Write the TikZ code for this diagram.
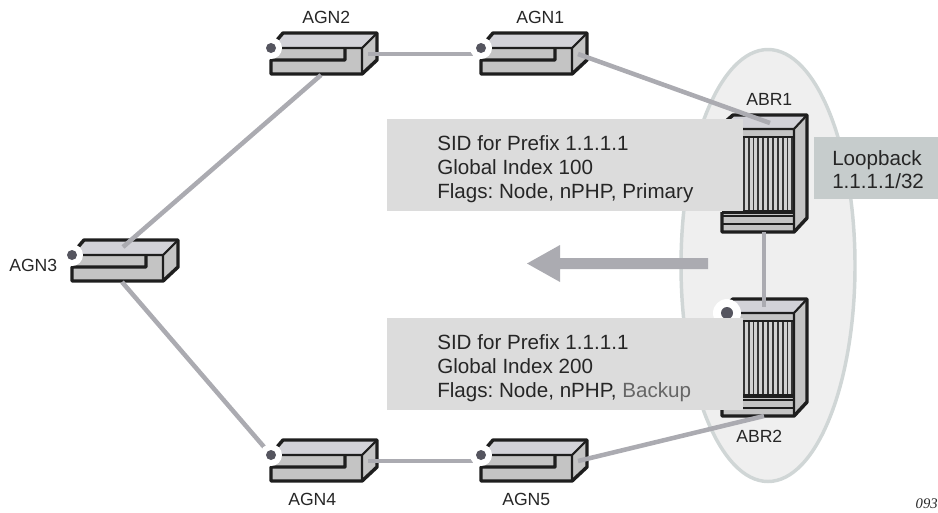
\documentclass[tikz,border=0pt]{standalone}
\usepackage{fontspec}
\setmainfont{Liberation Sans}
\newfontfamily\tagserif{Liberation Serif}
\definecolor{txt}{HTML}{262626}
\definecolor{linkc}{HTML}{ABABB1}
\definecolor{topc}{HTML}{D2D2D8}
\definecolor{facec}{HTML}{C4C4C4}
\definecolor{outl}{HTML}{1E1E1E}
\definecolor{dotc}{HTML}{55555F}
\definecolor{boxc}{HTML}{DCDCDC}
\definecolor{loopc}{HTML}{C6CCCC}
\definecolor{areac}{HTML}{EFEFEF}
\definecolor{areal}{HTML}{D0D6D6}
\tikzset{
  link/.style={draw=linkc,line width=3.4pt},
  outline/.style={draw=outl,line width=2.6pt,line join=round},
  thinl/.style={draw=outl,line width=1.6pt},
  lab/.style={inner sep=0pt,anchor=base west,text=txt,font=\fontsize{13.2}{16}\selectfont},
  infobox/.style={fill=boxc,draw=none},
  info/.style={inner sep=0pt,anchor=north west,align=left,text=txt,font=\frenchspacing\fontsize{15.45}{18}\selectfont},
}
% compact router: #1 name, (#2,#3) position of the status dot
\newcommand{\agnrouter}[3]{%
  \begin{scope}[shift={(#2,#3)}]
    \fill[topc] (12,-15) -- (106,-15) -- (91,0) -- (0,0) -- cycle;
    \fill[facec] (0,0) -- (91,0) -- (91,26) -- (0,26) -- cycle;
    \fill[facec] (91,0) -- (106,-15) -- (106,12) -- (91,26) -- cycle;
    \draw[outline] (6,-8) -- (12,-15) -- (106,-15) -- (106,12) -- (91,26) -- (0,26) -- (0,12) -- (74,12) -- (74,0);
    \draw[thinl] (0,0) -- (91,0) -- (106,-15) (91,0) -- (91,26);
    \coordinate (#1side) at (97,6);
    \coordinate (#1dot) at (0,0);
    \coordinate (#1port) at (0,6);
    \coordinate (#1top) at (51,-8);
    \coordinate (#1bot) at (50,27);
  \end{scope}}
% chassis router: #1 name, (#2,#3) front left corner at top of front face
\newcommand{\abrrouter}[3]{%
  \begin{scope}[shift={(#2,#3)}]
    \fill[topc] (11,-14) -- (85,-14) -- (72,0) -- (0,0) -- cycle;
    \fill[facec] (72,0) -- (85,-14) -- (85,89) -- (72,103) -- cycle;
    \fill[facec] (0,0) rectangle (72,8);
    \fill[black!18] (0,8) rectangle (72,83);
    \foreach \k in {0,...,14}{\draw[draw=outl!90,line width=1.4pt] ({2.4+\k*4.85},8) -- ({2.4+\k*4.85},83);}
    \fill[facec] (0,83) rectangle (72,103);
    \draw[thinl] (0,8) -- (72,8);
    \draw[thinl] (0,87) -- (72,87) (0,95) -- (72,95);
    \draw[outline] (0,83) -- (72,83);
    \draw[outline] (3,-7) -- (11,-14) -- (85,-14) -- (85,89) -- (72,103) -- (0,103) -- (0,83);
    \draw[thinl] (0,0) -- (72,0) -- (85,-14) (72,0) -- (72,103);
    \coordinate (#1dot) at (5,0);
    \coordinate (#1top) at (42,-6);
    \coordinate (#1bot) at (42,103);
    \coordinate (#1in) at (48,-6);
  \end{scope}}
\newcommand{\portdot}[1]{%
  \fill[white] (#1) circle (11);
  \fill[dotc] (#1) circle (5);}
\begin{document}
\begin{tikzpicture}[x=0.75pt,y=-0.75pt]
\useasboundingbox (0,0) rectangle (938,512);
% area
\draw[fill=areac,draw=areal,line width=2.6pt] (768,265.5) ellipse [x radius=87,y radius=216];
% routers
\agnrouter{agnb}{271}{48}
\agnrouter{agna}{481}{48}
\agnrouter{agnc}{72}{255}
\agnrouter{agnd}{271}{455}
\agnrouter{agne}{481}{455}
\abrrouter{abra}{722}{129}
\abrrouter{abrb}{722}{313}
% links
\draw[link] (agnbside) -- (agnaport);
\draw[link] (agnaside) -- (abrain);
\draw[link] (agnbbot) -- (agnctop);
\draw[link] (agncbot) -- (agnddot);
\draw[link] (agndside) -- (agneport);
\draw[link] (agneside) -- (abrbbot);
\draw[link] (abrabot) -- (abrbtop);
% port dots
\portdot{agnbdot}\portdot{agnadot}\portdot{agncdot}\portdot{agnddot}\portdot{agnedot}
\fill[white] (abrbdot) circle (14);
\fill[dotc] (abrbdot) circle (6);
% info boxes
\fill[infobox] (387,119) rectangle (743,211);
\fill[infobox] (387,318) rectangle (743,410);
\fill[loopc] (814,137) rectangle (938,199);
% arrow
\fill[linkc] (708,258) -- (560,258) -- (560,245) -- (527,263.5) -- (560,282) -- (560,269) -- (708,269) -- cycle;
% text
\node[info] (sida) at (437,135) {SID for Prefix 1.1.1.1\\Global Index 100\\Flags: Node, nPHP, Primary};
\node[info] (sidb) at (437,334) {SID for Prefix 1.1.1.1\\Global Index 200\\Flags: Node, nPHP, \textcolor{black!60}{Backup}};
\node[info,font=\fontsize{15.45}{17.25}\selectfont] (loop) at (832,150) {Loopback\\1.1.1.1/32};
\node[lab] (agn2) at (302,23) {AGN2};
\node[lab] (agn1) at (516,23) {AGN1};
\node[lab] (agn3) at (9,271) {AGN3};
\node[lab] (agn4) at (288,505) {AGN4};
\node[lab] (agn5) at (502,505) {AGN5};
\node[lab] (abr1) at (746,105) {ABR1};
\node[lab] (abr2) at (736,442) {ABR2};
\node[inner sep=0pt,anchor=base east,text=txt,font=\tagserif\itshape\fontsize{11}{13}\selectfont] (tag) at (938,508) {093};
\end{tikzpicture}
\end{document}
